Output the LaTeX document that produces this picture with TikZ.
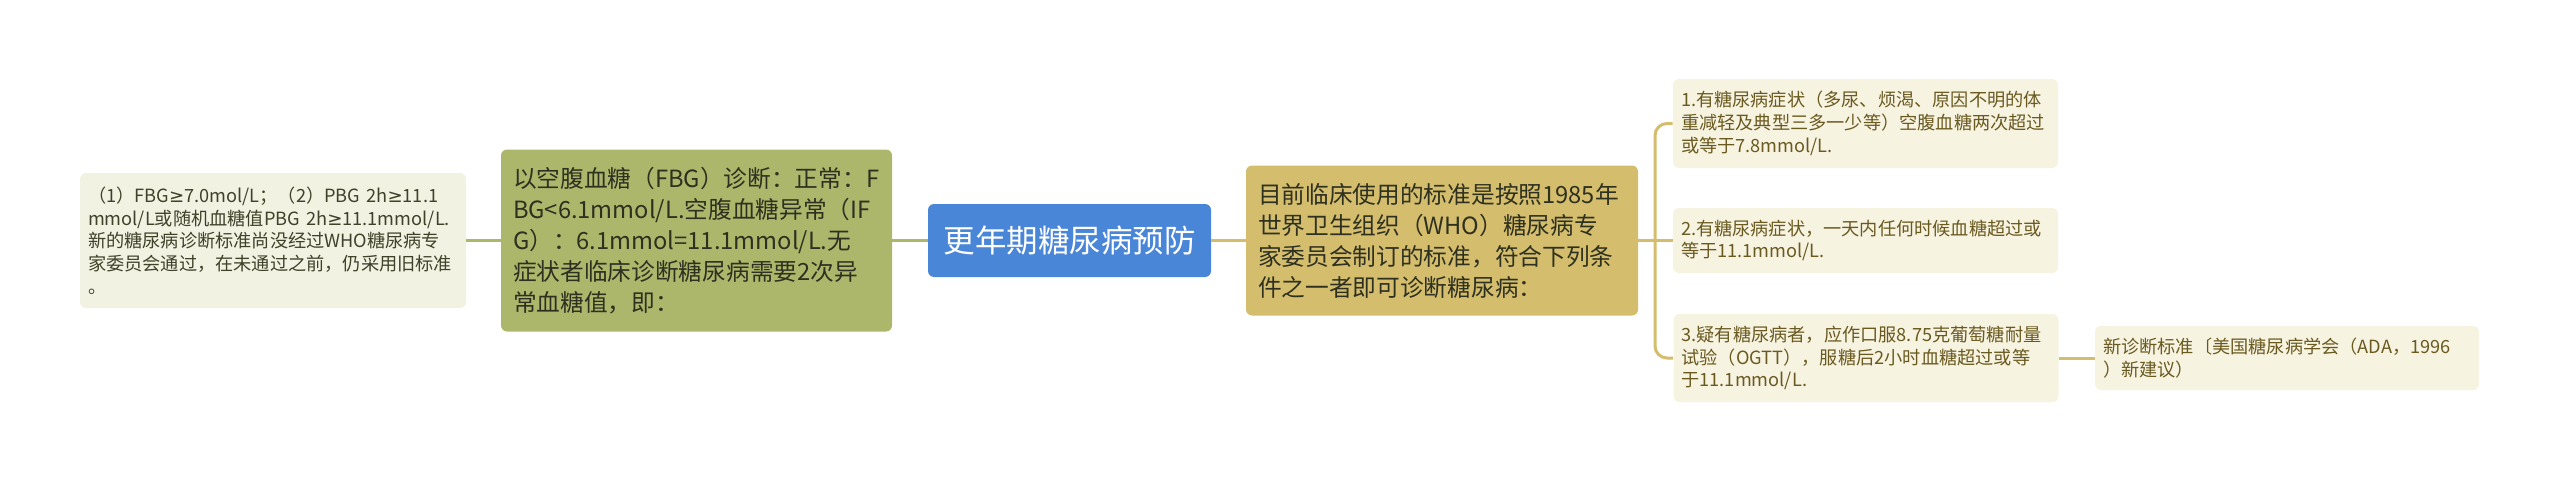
\documentclass[tikz,border=0pt]{standalone}
\usepackage{fontspec}
\setmainfont{Noto Sans CJK SC}
\newfontfamily\geqfont{DejaVu Sans}
\newcommand{\geqsign}{{\geqfont ≥}}

\definecolor{topicblue}{HTML}{4A86D8}
\definecolor{fbggreen}{HTML}{ADB76B}
\definecolor{whogold}{HTML}{D4BD6C}
\definecolor{noteleft}{HTML}{F2F2E3}
\definecolor{noteright}{HTML}{F7F3E1}
\definecolor{textleft}{HTML}{3F4129}
\definecolor{textright}{HTML}{6A5A20}
\definecolor{textdark}{HTML}{2E3020}

\begin{document}
\begin{tikzpicture}[x=0.5pt, y=-0.5pt]

    \tikzset{%
    every box/.style={
        rounded corners=3pt,
        inner ysep=0pt,
        align=left
        },
    small text/.style={
        font=\fontsize{9.1}{11.35}\selectfont
        },
    big text/.style={
        font=\fontsize{11.85}{15.5}\selectfont,
        text=textdark
        },
    topic box/.style={
        fill=topicblue, text=white, align=center,
        font=\fontsize{15.75}{18}\selectfont,
        minimum width=141.5pt, minimum height=36.5pt
        },
    note box/.style={
        small text, fill=noteleft, text=textleft,
        inner xsep=4pt, text width=185pt
        },
    crit box/.style={
        small text, fill=noteright, text=textright,
        inner xsep=4pt, text width=184.5pt
        },
    link green/.style={draw=fbggreen, line width=1.5pt},
    link gold/.style={draw=whogold, line width=1.5pt},
    }

    \useasboundingbox (0,0) rectangle (2560,482);

    % Central topic
    \node [every box, topic box] (topic) at (1069.5,240.5) {更年期糖尿病预防};

    % Left branch
    \node [every box, big text, fill=fbggreen, inner xsep=6pt, text width=183.5pt,
           minimum height=91pt] (fbg) at (696.5,240.5)
        {以空腹血糖（FBG）诊断：正常：F\\BG<6.1mmol/L.空腹血糖异常（IF\\G）：6.1mmol=11.1mmol/L.无\\症状者临床诊断糖尿病需要2次异\\常血糖值，即：};
    \node [every box, note box, minimum height=67.5pt] (note) at (273,240.5)
        {（1）FBG\geqsign 7.0mol/L；（2）PBG 2h\geqsign 11.1\\mmol/L或随机血糖值PBG 2h\geqsign 11.1mmol/L.\\新的糖尿病诊断标准尚没经过WHO糖尿病专\\家委员会通过，在未通过之前，仍采用旧标准\\。};

    % Right branch
    \node [every box, big text, fill=whogold, inner xsep=6pt, text width=184pt,
           minimum height=75pt] (who) at (1442,240.5)
        {目前临床使用的标准是按照1985年\\世界卫生组织（WHO）糖尿病专\\家委员会制订的标准，符合下列条\\件之一者即可诊断糖尿病：};

    % Criteria
    \node [every box, crit box, minimum height=44.5pt] (crit-1) at (1865.5,123.5)
        {1.有糖尿病症状（多尿、烦渴、原因不明的体\\重减轻及典型三多一少等）空腹血糖两次超过\\或等于7.8mmol/L.};
    \node [every box, crit box, minimum height=32.5pt] (crit-2) at (1865.5,240.5)
        {2.有糖尿病症状，一天内任何时候血糖超过或\\等于11.1mmol/L.};
    \node [every box, crit box, minimum height=44pt] (crit-3) at (1866,358)
        {3.疑有糖尿病者，应作口服8.75克葡萄糖耐量\\试验（OGTT），服糖后2小时血糖超过或等\\于11.1mmol/L.};
    \node [every box, crit box, text width=184pt, minimum height=32pt] (ada) at (2287,358)
        {新诊断标准〔美国糖尿病学会（ADA，1996\\）新建议）};

    % Connectors
    \draw [link green] (note.east) -- (fbg.west);
    \draw [link green] (fbg.east) -- (topic.west);
    \draw [link gold] (topic.east) -- (who.west);

    \coordinate (bus) at (1655,240.5);
    \draw [link gold] (who.east) -- (bus);
    \draw [link gold] (bus) -- (crit-2.west);
    \foreach \i in {1,3}
    \draw [link gold, rounded corners=6pt] (bus) |- (crit-\i.west);
    \draw [link gold] (crit-3.east) -- (ada.west);

\end{tikzpicture}
\end{document}
